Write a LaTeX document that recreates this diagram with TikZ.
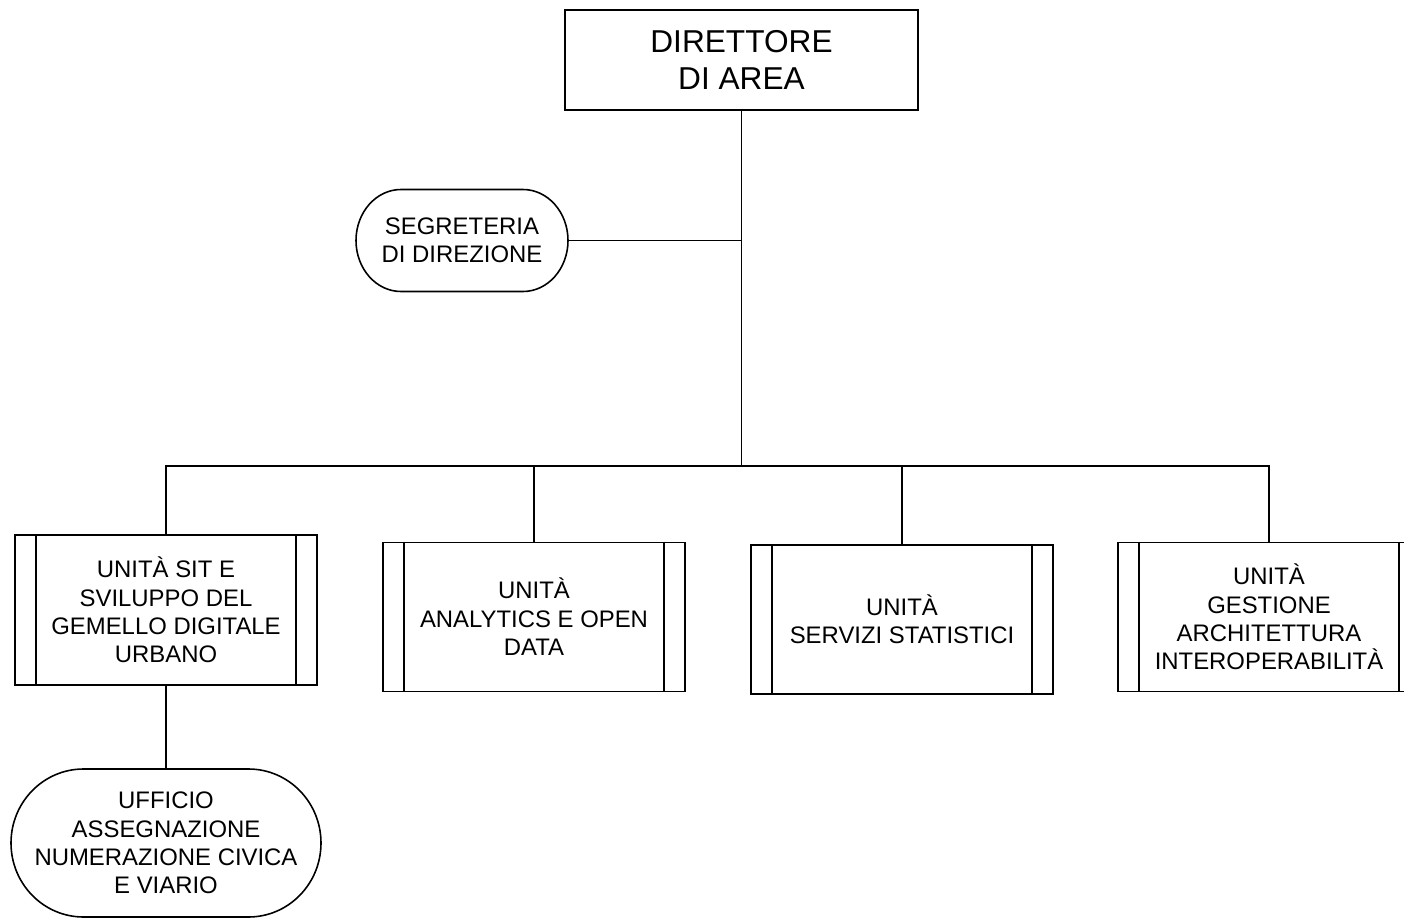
\documentclass[tikz,border=0pt]{standalone}
\usepackage{fontspec}
\setmainfont{Liberation Sans}
\usepackage{tikz}

\begin{document}
\begin{tikzpicture}[line width=0.9pt,
  dirbox/.style={draw, rectangle, minimum width=7.06cm, minimum height=2cm, align=center,
    font=\fontsize{18}{21.5}\selectfont},
  unitbox/.style={draw, rectangle, minimum width=6.04cm, minimum height=2.98cm, align=center,
    font=\fontsize{13.6}{16.2}\selectfont},
  officebox/.style={rectangle, outer sep=0pt, align=center,
    font=\fontsize{13.6}{16.2}\selectfont}]
\useasboundingbox (0,0) rectangle (28.08,-18.36);
\node[dirbox] (dir) at (14.83,-1.2) {DIRETTORE\\DI AREA};
\node[officebox, minimum width=4.24cm, minimum height=2.04cm] (segr) at (9.24,-4.81) {SEGRETERIA\\DI DIREZIONE};
\node[unitbox, minimum height=3cm] (u1) at (3.32,-12.2) {UNITÀ SIT E\\SVILUPPO DEL\\GEMELLO DIGITALE\\URBANO};
\node[unitbox] (u2) at (10.68,-12.34) {UNITÀ\\ANALYTICS E OPEN\\DATA};
\node[unitbox] (u3) at (18.04,-12.39) {UNITÀ\\SERVIZI STATISTICI};
\node[unitbox] (u4) at (25.38,-12.34) {UNITÀ\\GESTIONE\\ARCHITETTURA\\INTEROPERABILITÀ};
\node[officebox, minimum width=6.2cm, minimum height=2.96cm] (uff) at (3.32,-16.86) {UFFICIO\\ASSEGNAZIONE\\NUMERAZIONE CIVICA\\E VIARIO};
\coordinate (bus) at (14.83,-9.32);
% outline of the office shapes, with elliptic ends
\foreach \o/\rx/\ry in {segr/0.9cm/1.02cm, uff/1.45cm/1.48cm}
  \draw ([xshift=\rx]\o.north west) -- ([xshift=-\rx]\o.north east)
    arc[start angle=90, end angle=-90, x radius=\rx, y radius=\ry]
    -- ([xshift=\rx]\o.south west)
    arc[start angle=270, end angle=90, x radius=\rx, y radius=\ry] -- cycle;
% double side lines of the unit boxes
\foreach \u in {u1,u2,u3,u4} {
  \draw ([xshift=0.44cm]\u.north west) -- ([xshift=0.44cm]\u.south west);
  \draw ([xshift=-0.44cm]\u.north east) -- ([xshift=-0.44cm]\u.south east);
  \draw (\u.north) |- (bus);
}
\draw (dir.south) -- (bus);
\draw (segr.east) -- (segr.east -| dir.south);
\draw (u1.south) -- (uff.north);
\end{tikzpicture}
\end{document}
